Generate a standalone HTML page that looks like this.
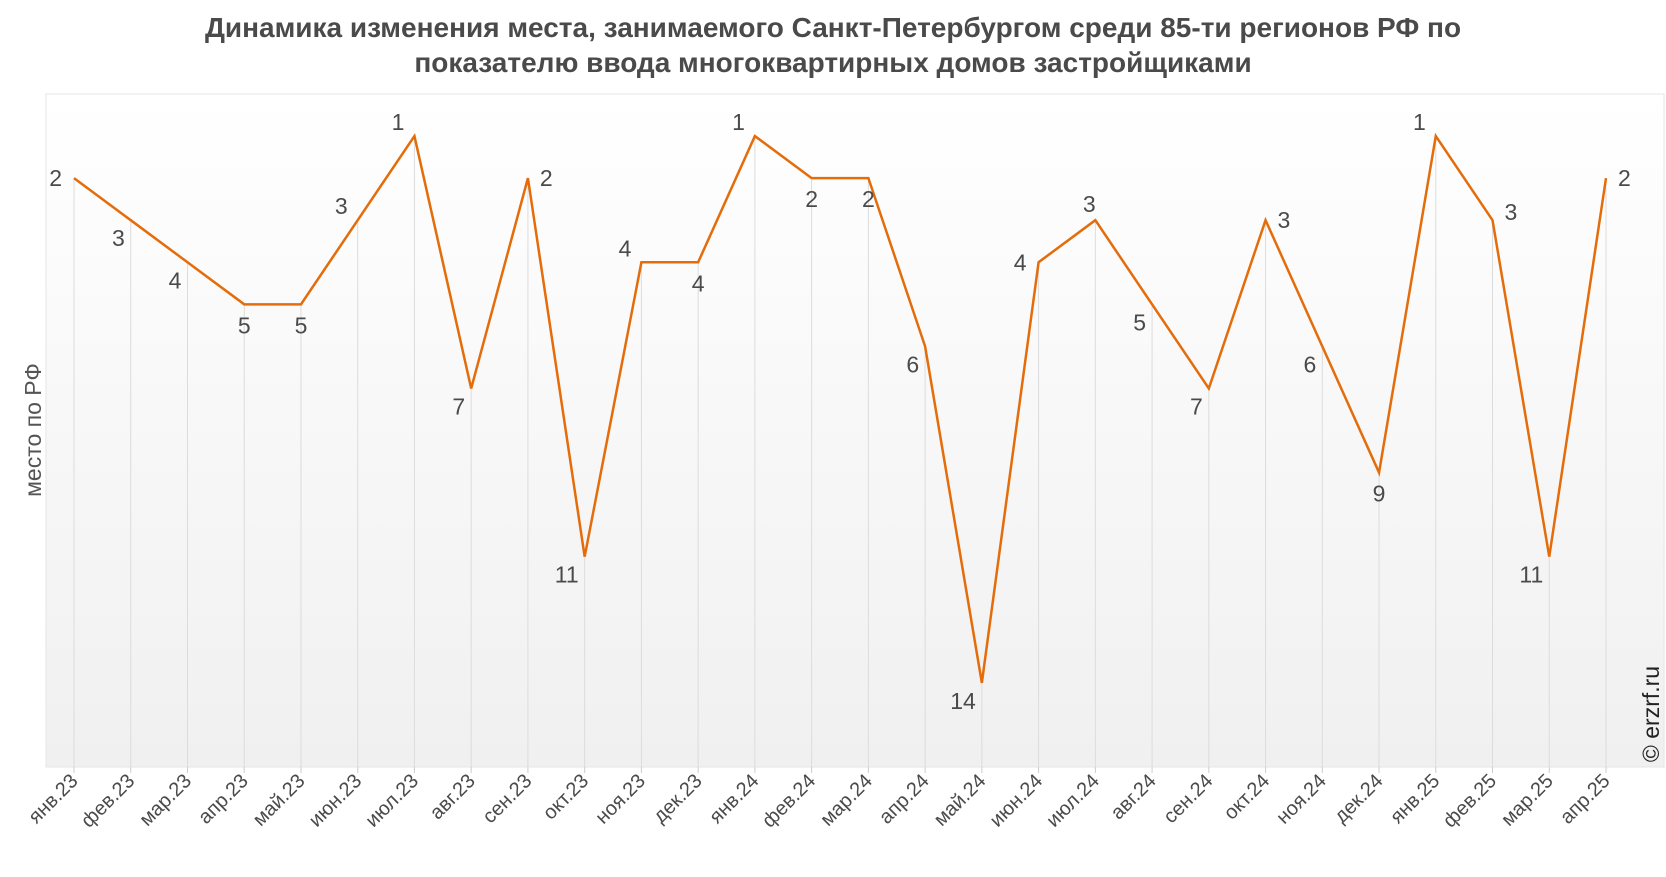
<!DOCTYPE html>
<html><head><meta charset="utf-8"><style>
body{margin:0;background:#fff;font-family:"Liberation Sans",sans-serif;}
svg text{font-family:"Liberation Sans","DejaVu Sans",sans-serif;}
</style></head><body>
<svg id="chart" width="1666" height="872" xmlns="http://www.w3.org/2000/svg">
<defs><linearGradient id="bg" x1="0" y1="0" x2="0" y2="1"><stop offset="0" stop-color="#ffffff"/><stop offset="1" stop-color="#f0f0f0"/></linearGradient></defs>
<text x="833" y="37" text-anchor="middle" font-size="28" font-weight="bold" fill="#4a4a4a">Динамика изменения места, занимаемого Санкт-Петербургом среди 85-ти регионов РФ по</text>
<text x="833" y="72" text-anchor="middle" font-size="28" font-weight="bold" fill="#4a4a4a">показателю ввода многоквартирных домов застройщиками</text>
<rect x="46" y="94" width="1618" height="673" fill="url(#bg)" stroke="#e6e6e6"/>
<text transform="translate(41,430) rotate(-90)" text-anchor="middle" font-size="23" fill="#555">место по РФ</text>
<text transform="translate(1659,714) rotate(-90)" text-anchor="middle" font-size="23" fill="#222">© erzrf.ru</text>
<g id="marks"></g>
</svg>
<script>
const categories=["янв.23","фев.23","мар.23","апр.23","май.23","июн.23","июл.23","авг.23","сен.23","окт.23","ноя.23","дек.23","янв.24","фев.24","мар.24","апр.24","май.24","июн.24","июл.24","авг.24","сен.24","окт.24","ноя.24","дек.24","янв.25","фев.25","мар.25","апр.25"];
const ranks=[2,3,4,5,5,3,1,7,2,11,4,4,1,2,2,6,14,4,3,5,7,3,6,9,1,3,11,2];
const labelSide=["l","bl","bl","b","b","la","la","bl","r","bl","la","b","la","b","b","bl","bl","l","a","bl","bl","r","bl","b","la","rb","bl","r"];
const x0=74,x1=1606,yTop=94,yBot=767,yMax=16;
function xs(i){return x0+(x1-x0)*i/(categories.length-1);}
function ys(v){return yTop+(yBot-yTop)*v/yMax;}
const ns="http://www.w3.org/2000/svg",g=document.getElementById('marks');
function mk(t,a){const e=document.createElementNS(ns,t);for(const k in a)e.setAttribute(k,a[k]);g.appendChild(e);return e;}
categories.forEach((c,i)=>{
 const l=mk('line',{x1:xs(i),x2:xs(i),y1:ys(ranks[i]),y2:yBot,stroke:'#dcdcdc','stroke-width':1});
 
 
 const tk=mk('line',{x1:xs(i),x2:xs(i),y1:yBot,y2:yBot+6,stroke:'#ccc'});
 
 
 const t=mk('text',{transform:`translate(${xs(i)+5},${yBot+15}) rotate(-45)`,'text-anchor':'end','font-size':20,fill:'#4a4a4a'});
 t.textContent=c;
 
 
});
const p=mk('polyline',{points:ranks.map((v,i)=>xs(i)+','+ys(v)).join(' '),fill:'none',stroke:'#e46c0a','stroke-width':2.5,'stroke-linejoin':'miter'});


const off={l:[-12,8,'end'],bl:[-6,26,'end'],b:[0,29,'middle'],la:[-10,-6,'end'],r:[12,8,'start'],a:[-6,-8,'middle'],rb:[12,0,'start']};
ranks.forEach((v,i)=>{
 const o=off[labelSide[i]];
 const t=mk('text',{x:xs(i)+o[0],y:ys(v)+o[1],'text-anchor':o[2],'font-size':23,fill:'#4a4a4a'});
 t.textContent=v;
 
 
});
</script>
</body></html>
